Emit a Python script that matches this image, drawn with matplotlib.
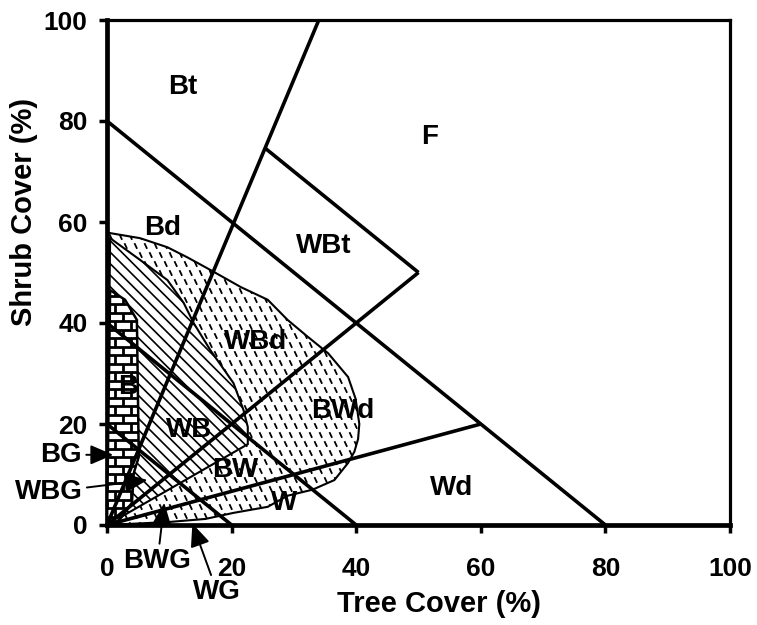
import numpy as np
import matplotlib
matplotlib.use("Agg")
import matplotlib.pyplot as plt
from matplotlib.patches import Polygon
from matplotlib.collections import LineCollection

plt.rcParams['font.family'] = ['Liberation Sans', 'DejaVu Sans']

# ---------------- data ----------------
ticks = [0, 20, 40, 60, 80, 100]
xlabel = "Tree Cover (%)"
ylabel = "Shrub Cover (%)"

# straight boundary lines (tree cover, shrub cover)
line80_T, line80_S = [0, 80], [80, 0]
line40_T, line40_S = [0, 40], [40, 0]
line20_T, line20_S = [0, 20], [20, 0]
steep_T, steep_S = [0, 34], [0, 100]
diag_T, diag_S = [0, 50], [0, 50]
wbt_T, wbt_S = [25.4, 50], [74.6, 50]
shallow_T, shallow_S = [0, 60], [0, 20]

# dashed-stipple region (dense types)
blob_T = [0, 0.5, 5.3, 9.7, 12.9, 16.6, 21.5, 25.8, 29, 32, 35.5, 38.7, 39.9, 40.5,
          40.3, 39.7, 38.7, 36.5, 33, 29, 25.8, 20.3, 15.8, 10, 5, 0]
blob_S = [58, 57.8, 56.8, 55, 53, 50.5, 47.1, 44.6, 40.6, 37.5, 34, 29.3, 25, 20,
          17, 14.5, 12.3, 8.9, 7, 5.8, 3.6, 2.4, 1.2, 0.6, 0.3, 0]

# diagonal-hatched region
hatch_T = [0, 0.5, 5.3, 9.7, 12.3, 13.9, 16.6, 20.3, 21.9, 22.6, 22.6, 0]
hatch_S = [0, 56.8, 52.5, 48.5, 44, 40, 34.6, 28.1, 22.8, 19.4, 16, 0]

# brick region
brick_T = [0, 0.5, 2.9, 4.8, 5.1, 4.3, 4.0, 2.0, 0]
brick_S = [0, 46.5, 44.6, 40.6, 13.5, 10.3, 4.4, 1, 0]

# region labels
region_names = ["Bt", "F", "WBt", "Bd", "WBd", "B", "WB", "BWd", "BW", "W", "Wd"]
region_T = [12.1, 51.8, 34.8, 8.9, 23.9, 3.4, 13.1, 37.9, 20.6, 28.4, 55.3]
region_S = [86.7, 76.8, 55.2, 58.8, 36.2, 27.3, 18.8, 22.6, 10.9, 4.4, 7.3]

# arrow annotations: name, target (T,S), text position (T,S), alignment
ann_names = ["BG", "WBG", "BWG", "WG"]
ann_target_T = [1.0, 6.5, 9.2, 13.7]
ann_target_S = [13.9, 8.9, 4.4, 0.3]
ann_text_T = [-4.0, -3.9, 8.1, 17.7]
ann_text_S = [13.9, 6.5, -7.1, -13.3]
ann_ha = ["right", "right", "center", "center"]

# ---------------- figure ----------------
W, H = 757, 625
fig = plt.figure(figsize=(W / 100, H / 100), dpi=100)
ax = fig.add_axes([107 / W, 100 / H, (730 - 107) / W, (525 - 20) / H])
ax.set_xlim(0, 100)
ax.set_ylim(0, 100)

pxT = 623 / 100.0   # pixels per tree unit
pxS = 505 / 100.0   # pixels per shrub unit

# stipple blob
blob = Polygon(np.column_stack([blob_T, blob_S]), closed=True, facecolor='white',
               edgecolor='black', lw=1.5, zorder=1)
ax.add_patch(blob)
segs = []
sx, sy = 10.0, 9.0
for j, yy in enumerate(np.arange(0, 62, sy / pxS)):
    off = (j % 2) * 0.5 * sx / pxT
    for xx in np.arange(-1 + off, 45, sx / pxT):
        dT, dS = 1.3 / pxT, 2.8 / pxS
        segs.append([(xx - dT, yy + dS), (xx + dT, yy - dS)])
lc = LineCollection(segs, colors='black', linewidths=1.3, zorder=1.1)
ax.add_collection(lc)
lc.set_clip_path(blob)

# hatched region
hatch = Polygon(np.column_stack([hatch_T, hatch_S]), closed=True, facecolor='white',
                edgecolor='black', lw=1.5, zorder=2)
ax.add_patch(hatch)
hsegs = []
spacing = 11.5
for c in np.arange(0, 700, spacing):
    hsegs.append([(0, c / pxS), (c / pxT, 0)])
hl = LineCollection(hsegs, colors='black', linewidths=1.2, zorder=2.1)
ax.add_collection(hl)
hl.set_clip_path(hatch)

# brick region
brick = Polygon(np.column_stack([brick_T, brick_S]), closed=True, facecolor='white',
                edgecolor='black', lw=1.8, zorder=3)
ax.add_patch(brick)
bsegs = []
rowh = 8.5 / pxS
bw = 16.0 / pxT
for j, yy in enumerate(np.arange(0, 48, rowh)):
    bsegs.append([(0, yy), (6, yy)])
    off = (j % 2) * bw / 2
    for xx in np.arange(off, 6, bw):
        bsegs.append([(xx, yy), (xx, yy + rowh)])
bl = LineCollection(bsegs, colors='black', linewidths=2.0, zorder=3.1)
ax.add_collection(bl)
bl.set_clip_path(brick)

# straight lines
lw = 2.6
for tt, ss in [(line80_T, line80_S), (line40_T, line40_S), (line20_T, line20_S),
               (steep_T, steep_S), (diag_T, diag_S), (wbt_T, wbt_S),
               (shallow_T, shallow_S)]:
    ax.plot(tt, ss, color='black', lw=lw, zorder=4, solid_capstyle='butt', clip_on=False)

# region labels
for name, t, s in zip(region_names, region_T, region_S):
    ax.text(t, s, name, ha='center', va='center', fontsize=20, fontweight='bold', zorder=5)

# annotations
for name, tt, ts, xt, xs, ha in zip(ann_names, ann_target_T, ann_target_S,
                                    ann_text_T, ann_text_S, ann_ha):
    ax.annotate(name, xy=(tt, ts), xytext=(xt, xs), ha=ha, va='center',
                fontsize=20, fontweight='bold', annotation_clip=False, zorder=6,
                arrowprops=dict(arrowstyle='-|>,head_length=0.7,head_width=0.3',
                                color='black', lw=1.4, shrinkA=1, shrinkB=0))

# axes styling
ax.set_xticks(ticks)
ax.set_yticks(ticks)
ax.set_xticklabels([str(t) for t in ticks], fontsize=19, fontweight='bold')
ax.set_yticklabels([str(t) for t in ticks], fontsize=19, fontweight='bold')
ax.tick_params(axis='both', direction='out', length=6, width=2.5, color='black')
ax.tick_params(axis='x', pad=17)
ax.tick_params(axis='y', pad=8)
for side in ['left', 'bottom']:
    ax.spines[side].set_linewidth(3.4)
for side in ['top', 'right']:
    ax.spines[side].set_linewidth(2.3)

ax.set_xlabel(xlabel, fontsize=21, fontweight='bold')
ax.set_ylabel(ylabel, fontsize=21, fontweight='bold')
ax.xaxis.set_label_coords(0.533, -0.129)
ax.yaxis.set_label_coords(-0.111, 0.62)

fig.savefig("out.png", dpi=100)
